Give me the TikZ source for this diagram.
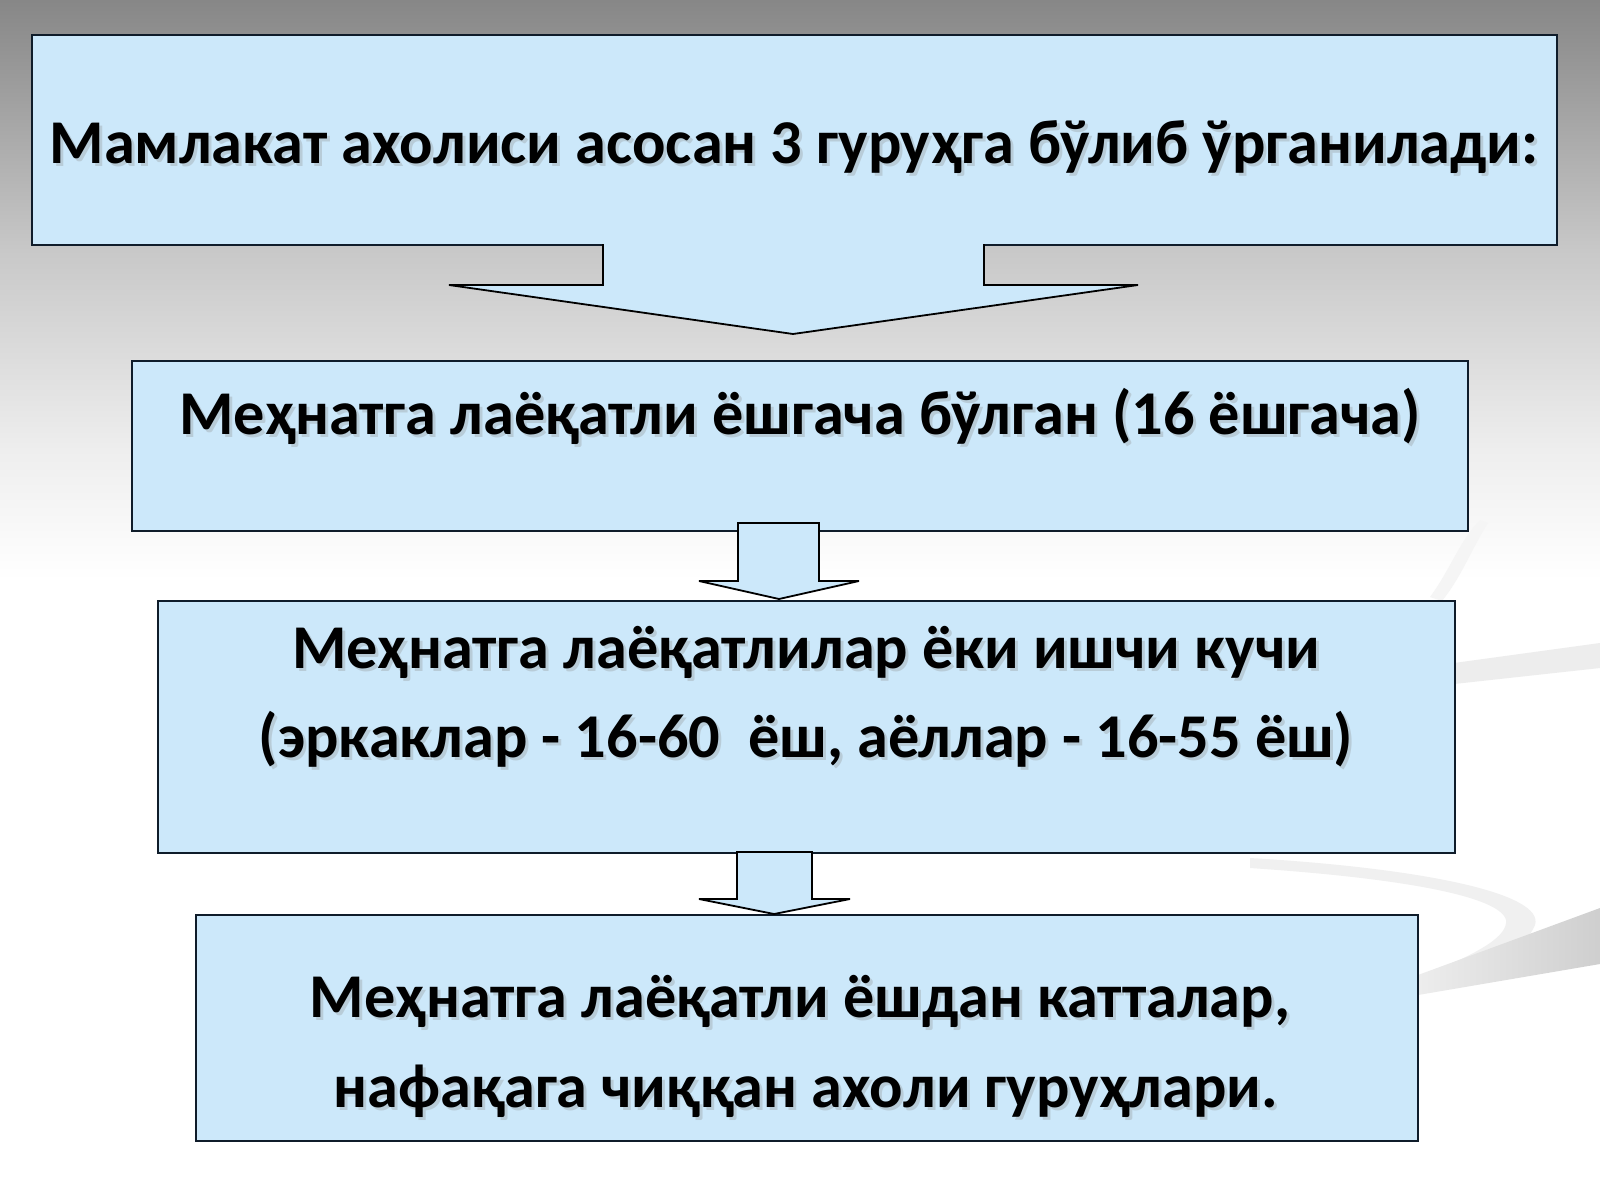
\documentclass[tikz,border=0pt]{standalone}
\usepackage{fontspec}
\setmainfont{Carlito}
\definecolor{boxblue}{RGB}{204,232,250}
\definecolor{boxline}{RGB}{15,28,42}
\definecolor{bg0}{RGB}{135,135,135}
\definecolor{bg1}{RGB}{150,150,150}
\definecolor{bg2}{RGB}{200,200,200}
\definecolor{bg3}{RGB}{238,238,238}
\newcommand{\boxlabel}[4]{%
  \node[shd] (#1s) at (#2+3,#3+3) {#4};
  \node[lbl] (#1) at (#2,#3) {#4};}
\begin{document}
\begin{tikzpicture}[x=1pt,y=-1pt,
  box/.style={draw=boxline, line width=2pt, fill=boxblue, anchor=north west, inner sep=0pt},
  lbl/.style={font=\fontsize{62.3}{74}\selectfont\bfseries, anchor=base, inner sep=0pt, text=black},
  shd/.style={lbl, text=black!45, opacity=0.3},
  arrowfill/.style={fill=boxblue},
  arrowline/.style={draw=black, line width=1.8pt, line join=miter, miter limit=2}]
\useasboundingbox (0,0) rectangle (1600,1200);
% background
\fill[white] (0,0) rectangle (1600,1200);
\shade[top color=bg0, bottom color=bg1] (0,0) rectangle (1600,60.5);
\shade[top color=bg1, bottom color=bg2] (0,60) rectangle (1600,250.5);
\shade[top color=bg2, bottom color=bg3] (0,250) rectangle (1600,450.5);
\shade[top color=bg3, bottom color=white] (0,450) rectangle (1600,580);
% swooshes
\fill[black!4] (1430,597) .. controls (1450,570) and (1460,540) .. (1480,520) -- (1488,523) .. controls (1472,548) and (1462,576) .. (1442,601) -- cycle;
\fill[black!7] (1454,663) -- (1600,643) -- (1600,668) -- (1454,684) -- cycle;
\fill[black!6] (1250,858) .. controls (1420,868) and (1545,893) .. (1535,925) .. controls (1525,950) and (1490,962) .. (1440,978) -- (1432,972) .. controls (1480,952) and (1508,936) .. (1506,920) .. controls (1500,896) and (1400,878) .. (1250,868) -- cycle;
\shade[left color=black!7, right color=black!19] (1418,975) -- (1600,908) -- (1600,964) -- (1418,995) -- cycle;
% boxes
\node[box, minimum width=1525pt, minimum height=210pt] (b1) at (31,34) {};
\node[box, minimum width=1336pt, minimum height=170pt] (b2) at (131,360) {};
\node[box, minimum width=1297pt, minimum height=252pt] (b3) at (157,600) {};
\node[box, minimum width=1222pt, minimum height=226pt] (b4) at (195,914) {};
% big arrow
\fill[arrowfill] (603,240) -- (603,285) -- (449,285) -- (793,334) -- (1138,285) -- (984,285) -- (984,240) -- cycle;
\draw[arrowline] (603,244) -- (603,285) -- (449,285) -- (793,334) -- (1138,285) -- (984,285) -- (984,244);
% small arrows
\draw[arrowfill, arrowline] (738,523) -- (738,581) -- (699,581) -- (779,599) -- (859,581) -- (819,581) -- (819,523) -- cycle;
\draw[arrowfill, arrowline] (737,852) -- (737,899) -- (699,899) -- (774,914) -- (850,899) -- (812,899) -- (812,852) -- cycle;
% texts
\boxlabel{t1}{794}{163}{Мамлакат ахолиси асосан 3 гуруҳга бўлиб ўрганилади:}
\boxlabel{t2}{800}{434}{Меҳнатга лаёқатли ёшгача бўлган (16 ёшгача)}
\boxlabel{t3}{806}{668}{Меҳнатга лаёқатлилар ёки ишчи кучи}
\boxlabel{t4}{806}{757}{(эркаклар - 16-60\ \ ёш, аёллар - 16-55 ёш)}
\boxlabel{t5}{800}{1017}{Меҳнатга лаёқатли ёшдан катталар,}
\boxlabel{t6}{806}{1107}{нафақага чиққан ахоли гуруҳлари.}
\end{tikzpicture}
\end{document}
